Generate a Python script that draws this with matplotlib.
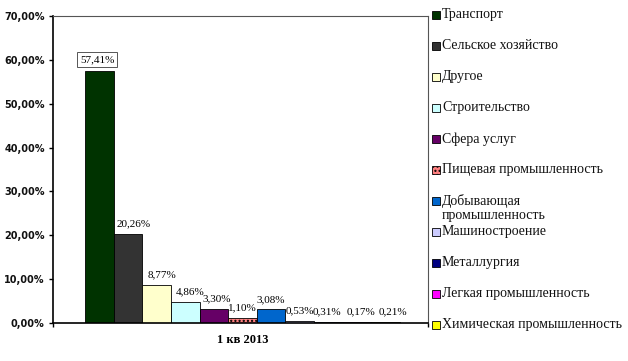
import matplotlib
matplotlib.use("Agg")
import matplotlib.pyplot as plt
from matplotlib.patches import Rectangle

# data
categories = ["Транспорт", "Сельское хозяйство", "Другое", "Строительство",
              "Сфера услуг", "Пищевая промышленность",
              "Добывающая\nпромышленность", "Машиностроение", "Металлургия",
              "Легкая промышленность", "Химическая промышленность"]
values = [57.41, 20.26, 8.77, 4.86, 3.30, 1.10, 3.08, 0.53, 0.31, 0.17, 0.21]
colors = ["#003300", "#333333", "#FFFFCC", "#CCFFFF", "#660066", "#FF8080",
          "#0066CC", "#CCCCFF", "#000080", "#FF00FF", "#FFFF00"]
period = "1 кв 2013"
yticks = [0, 10, 20, 30, 40, 50, 60, 70]

# label nudges in pixels (labels were dragged a bit in the original)
label_dx = [-2, 6, 5.5, 4.5, 3, 0, 0, 0, -2, 3.5, 7]

W, H = 628, 361
fig = plt.figure(figsize=(W / 100, H / 100), dpi=100)
# plot area in pixels: x 53..428, y 16..323
ax = fig.add_axes([53 / W, 1 - 323 / H, (428 - 53) / W, (323 - 16) / H])

n = len(values)
bw = 1.0
x = [i * bw for i in range(n)]
px = 28.7  # pixels per bar
left_pad = 32 / px
right_pad = 28 / px
for i, (v, c) in enumerate(zip(values, colors)):
    hatch = "...." if i == 5 else None
    ax.bar(x[i], v, width=bw, align="edge", color=c, edgecolor="black",
           linewidth=0.6, hatch=hatch)

ax.set_xlim(-left_pad, n * bw + right_pad)
ax.set_ylim(0, 70)
ax.set_yticks(yticks)
ax.set_yticklabels([f"{t:.2f}%".replace(".", ",") for t in yticks],
                   fontsize=7, fontweight="heavy", family="DejaVu Sans",
                   color="#111111")
ax.tick_params(axis="y", length=3, width=1, pad=3)

# category ticks at the edges, label in the middle
ax.set_xticks([-left_pad, n * bw + right_pad])
ax.set_xticklabels(["", ""])
ax.tick_params(axis="x", which="major", length=3, width=1)
ax.set_xticks([n * bw / 2], minor=True)
ax.set_xticklabels([period], minor=True, fontsize=9, fontweight="bold",
                   family="Liberation Serif")
ax.tick_params(axis="x", which="minor", length=0, pad=8)

for s in ["left", "bottom"]:
    ax.spines[s].set_linewidth(1.2)
for s in ["top", "right"]:
    ax.spines[s].set_linewidth(0.8)
    ax.spines[s].set_color("#555555")

ypx = 70 / 307  # data units per pixel
for i, v in enumerate(values):
    txt = f"{v:.2f}%".replace(".", ",")
    xc = x[i] + bw / 2 + label_dx[i] / px
    if i == 0:
        ax.text(xc, v + 11.5 * ypx, txt, ha="center", va="center", fontsize=8,
                family="Liberation Serif",
                bbox=dict(boxstyle="square,pad=0.25", fc="white", ec="#555555", lw=0.7))
    else:
        ax.text(xc, v + 10 * ypx, txt, ha="center", va="center", fontsize=8,
                family="Liberation Serif")

# legend drawn at right
for i, (lab, c) in enumerate(zip(categories, colors)):
    yc = 15 + 31 * i
    hatch = "...." if i == 5 else None
    fig.add_artist(Rectangle((432 / W, 1 - (yc + 4) / H), 8 / W, 8 / H,
                             transform=fig.transFigure, facecolor=c,
                             edgecolor="black", linewidth=0.6, hatch=hatch))
    fig.text(442 / W, 1 - (yc - 7) / H, lab, ha="left", va="top",
             fontsize=10, family="Liberation Serif", color="#111111",
             linespacing=1.05)

fig.savefig("out.png", dpi=100)
